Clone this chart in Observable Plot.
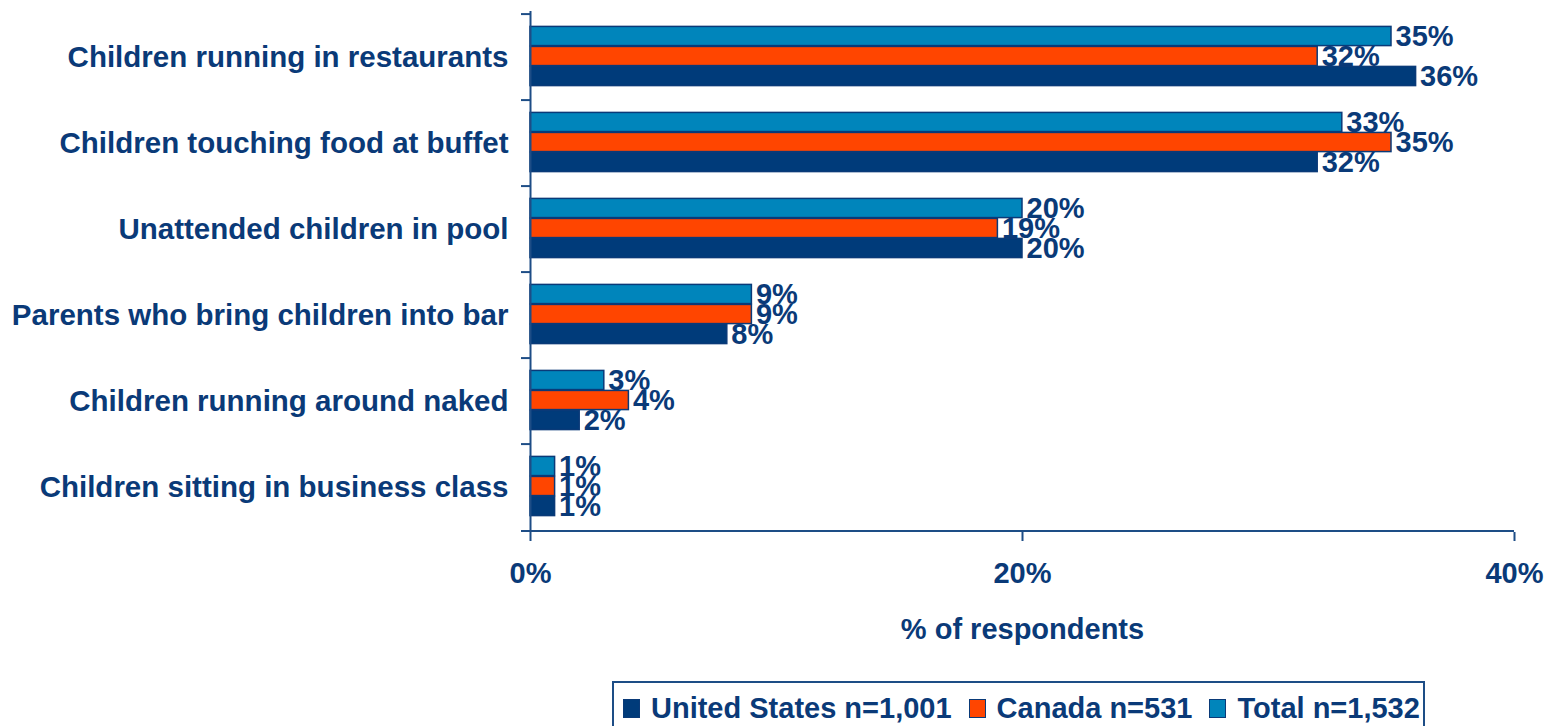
<!DOCTYPE html>
<html>
<head>
<meta charset="utf-8">
<script src="https://cdn.jsdelivr.net/npm/d3@7"></script>
<script src="https://cdn.jsdelivr.net/npm/@observablehq/plot@0.6"></script>
<style>
  body { margin: 0; background: #fff; font-family: "Liberation Sans", Arial, sans-serif; }
  #chart { position: absolute; left: 0; top: 0; }
  #chart svg { display: block; }
  #legend {
    position: absolute; left: 612px; top: 681px; width: 813px; height: 60px;
    box-sizing: border-box; border: 2px solid #1d4d86; background: #fff;
    display: flex; align-items: flex-start; padding-top: 9px; padding-left: 9px;
    font-weight: bold; font-size: 29px; color: #0a3a78; white-space: nowrap;
  }
  #legend .item { display: flex; align-items: center; margin-right: 17px; }
  #legend .sw { width: 15px; height: 17px; border: 1.5px solid #0a3a78; margin-right: 11px; }
</style>
</head>
<body>
<div id="chart"></div>
<div id="legend"></div>
<script>
const categories = [
  "Children running in restaurants",
  "Children touching food at buffet",
  "Unattended children in pool",
  "Parents who bring children into bar",
  "Children running around naked",
  "Children sitting in business class"
];
const unitedStates = [36, 32, 20, 8, 2, 1];
const canada = [32, 35, 19, 9, 4, 1];
const total = [35, 33, 20, 9, 3, 1];
const seriesNames = ["United States n=1,001", "Canada n=531", "Total n=1,532"];
const seriesColors = ["#003b7a", "#ff4500", "#0085bb"];
const xTicks = [0, 20, 40];

const navy = "#0a3a78";
const axisColor = "#1d4d86";
const labelFont = "29.5px";
const valueFont = "29px";

const seriesValues = [unitedStates, canada, total];
const rows = [];
seriesValues.forEach((vals, s) => {
  vals.forEach((v, i) => rows.push({category: categories[i], series: seriesNames[s], value: v}));
});

const bandH = (532 - 11) / categories.length;
const barH = 20;
const inset = (bandH - barH) / 2;
// vertical offset for each series within the band (Total top, US bottom)
const offsets = {[seriesNames[2]]: -barH - 1, [seriesNames[1]]: -1, [seriesNames[0]]: barH - 1};

const marks = [];
// value labels (drawn beneath bars like the original)
for (const name of seriesNames) {
  marks.push(Plot.text(rows.filter(d => d.series === name), {
    x: "value", y: "category", dy: offsets[name], dx: 4,
    text: d => d.value + "%", textAnchor: "start",
    fill: navy, fontSize: valueFont, fontWeight: "bold"
  }));
}
for (let s = 0; s < seriesNames.length; s++) {
  const name = seriesNames[s];
  marks.push(Plot.barX(rows.filter(d => d.series === name), {
    x: "value", y: "category", dy: offsets[name],
    insetTop: inset, insetBottom: inset,
    fill: seriesColors[s], stroke: "#0a3a78", strokeWidth: 1.5
  }));
}

const plot = Plot.plot({
  width: 1553,
  height: 678,
  marginLeft: 530,
  marginRight: 39,
  marginTop: 11,
  marginBottom: 146,
  style: {fontFamily: '"Liberation Sans", Arial, sans-serif', color: navy, background: "#fff"},
  x: {domain: [0, 40]},
  y: {domain: categories, padding: 0},
  marks: [
    ...marks,
    Plot.ruleX([0], {stroke: axisColor, strokeWidth: 2}),
    Plot.axisY({tickSize: 0, tickPadding: 22, fontSize: labelFont, fontWeight: "bold", fill: navy, label: null}),
    Plot.axisY({tickSize: 9, tickFormat: () => "", dy: -bandH / 2, stroke: axisColor, strokeWidth: 2, strokeOpacity: 1, label: null}),
    Plot.ruleY([categories[categories.length - 1]], {dy: bandH / 2, insetLeft: -9, stroke: axisColor, strokeWidth: 2}),
    Plot.axisX({ticks: xTicks, tickSize: 9, tickPadding: 21, tickFormat: d => d + "%",
      stroke: axisColor, strokeWidth: 2, strokeOpacity: 1,
      fontSize: valueFont, fontWeight: "bold", fill: navy,
      label: "% of respondents", labelAnchor: "center", labelArrow: "none", labelOffset: 106})
  ]
});
document.getElementById("chart").appendChild(plot);

const legend = document.getElementById("legend");
seriesNames.forEach((name, i) => {
  const item = document.createElement("div");
  item.className = "item";
  const sw = document.createElement("span");
  sw.className = "sw";
  sw.style.background = seriesColors[i];
  const t = document.createElement("span");
  t.textContent = name;
  item.appendChild(sw);
  item.appendChild(t);
  legend.appendChild(item);
});
</script>
</body>
</html>
